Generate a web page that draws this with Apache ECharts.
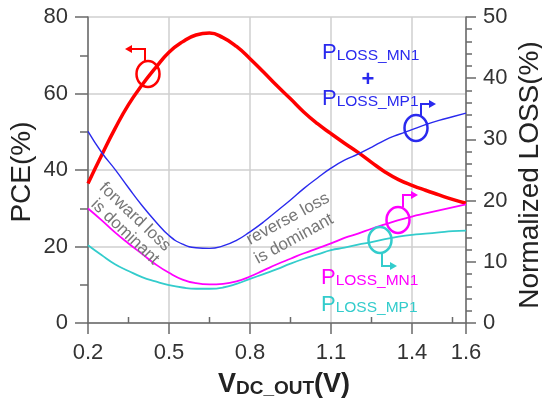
<!DOCTYPE html>
<html>
<head>
<meta charset="utf-8">
<script src="https://cdn.jsdelivr.net/npm/echarts@6/dist/echarts.min.js"></script>
<style>
  html, body { margin: 0; padding: 0; background: #fff; }
  #chart { width: 542px; height: 402px; }
</style>
</head>
<body>
<div id="chart"></div>
<script>
// VDC_OUT (V) sample points
const vdc = [0.2, 0.25, 0.3, 0.35, 0.4, 0.45, 0.5, 0.55, 0.6, 0.65, 0.7, 0.75, 0.8, 0.85, 0.9,
             0.95, 1.0, 1.05, 1.1, 1.15, 1.2, 1.25, 1.3, 1.35, 1.4, 1.45, 1.5, 1.55, 1.6];

// PCE (%) - left axis
const pce = [36.5, 43.8, 50.8, 57.1, 62.2, 66.7, 70.8, 73.5, 75.3, 75.8, 74.6, 72.3, 69.1, 65.6, 62.0,
             58.6, 55.1, 52.1, 49.5, 47.0, 44.6, 42.0, 39.5, 37.5, 36.0, 34.7, 33.5, 32.3, 31.3];

// Normalized loss (%) - right axis
const lossTotal = [31.3, 27.9, 25.1, 22.1, 19.2, 16.6, 14.3, 12.9, 12.3, 12.2, 12.6, 13.5, 14.9, 16.5, 18.3,
                   20.1, 22.0, 23.7, 25.3, 26.6, 27.6, 28.7, 29.9, 30.8, 31.6, 32.4, 33.1, 33.7, 34.3];
const lossMN1 = [18.7, 16.8, 14.8, 13.0, 11.3, 9.6, 8.2, 7.1, 6.5, 6.3, 6.4, 6.8, 7.6, 8.6, 9.6,
                 10.5, 11.4, 12.2, 13.0, 13.9, 14.6, 15.4, 16.1, 16.8, 17.4, 17.9, 18.4, 18.9, 19.4];
const lossMP1 = [12.7, 11.1, 9.6, 8.5, 7.5, 6.8, 6.2, 5.8, 5.6, 5.6, 5.8, 6.4, 7.2, 8.0, 8.8,
                 9.7, 10.5, 11.2, 11.9, 12.3, 12.8, 13.2, 13.7, 14.1, 14.4, 14.6, 14.8, 15.0, 15.1];

// ticks and grid lines
const xMajorTicks = [0.2, 0.5, 0.8, 1.1, 1.4, 1.6];
const xMinorTicks = [0.35, 0.65, 0.95, 1.25, 1.55];
const xTickLabels = [0.2, 0.5, 0.8, 1.1, 1.4, 1.6];

const FONT = '"Liberation Sans", Arial, sans-serif';
const AXIS_COLOR = '#6a6a6a';
const GRID_COLOR = '#cfcfcf';
const X_MIN = 0.2, X_MAX = 1.6;

const pairs = ys => vdc.map((x, i) => [x, ys[i]]);

// small circle + bent arrow markers pointing to the axis of each curve
function marker(cx, cy, color, stub, head) {
    return [
        { type: 'ellipse', shape: { cx: cx, cy: cy, rx: 11.5, ry: 13 },
          style: { fill: 'none', stroke: color, lineWidth: 2.5 }, z: 20 },
        { type: 'polyline', shape: { points: stub },
          style: { fill: 'none', stroke: color, lineWidth: 2 }, z: 20 },
        { type: 'polygon', shape: { points: head },
          style: { fill: color }, z: 20 }
    ];
}

function lossLabel(x, y, color, suffix) {
    return {
        type: 'text', x: x, y: y, z: 20,
        style: {
            text: '{p|P}{s|LOSS_' + suffix + '}',
            fill: color,
            fontSize: 22, fontFamily: FONT,
            textVerticalAlign: 'bottom',
            rich: {
                p: { fontSize: 22, fontFamily: FONT, fill: color, verticalAlign: 'bottom', lineHeight: 22 },
                s: { fontSize: 15.5, fontFamily: FONT, fill: color, verticalAlign: 'bottom', lineHeight: 18 }
            }
        }
    };
}

function noteText(x, y, rot, text) {
    return {
        type: 'text', x: x, y: y, rotation: rot, z: 15,
        style: {
            text: text, fill: '#777', font: '17px ' + FONT,
            align: 'center', verticalAlign: 'middle'
        }
    };
}

// minor x ticks (pointing inward), placed through the x axis scale
function minorTickRender(params, api) {
    const p = api.coord([api.value(0), 0]);
    return { type: 'line', shape: { x1: p[0], y1: p[1], x2: p[0], y2: p[1] - 6 },
             style: { stroke: AXIS_COLOR, lineWidth: 1.5 } };
}

const chart = echarts.init(document.getElementById('chart'));

chart.setOption({
    animation: false,
    grid: { left: 88, right: 76, top: 17, bottom: 79 },
    xAxis: {
        type: 'value', min: X_MIN, max: X_MAX,
        axisLine: { lineStyle: { color: AXIS_COLOR, width: 1.5 } },
        axisTick: { show: true, customValues: xMajorTicks, length: 11,
                    lineStyle: { color: AXIS_COLOR, width: 1.5 } },
        axisLabel: { customValues: xTickLabels, fontSize: 22, color: '#333', margin: 19,
                     fontFamily: FONT, formatter: v => v.toFixed(1) },
        splitLine: { show: true, lineStyle: { color: GRID_COLOR, width: 1.5 } }
    },
    yAxis: [
        {
            type: 'value', min: 0, max: 80, interval: 20,
            axisLine: { show: true, lineStyle: { color: AXIS_COLOR, width: 1.5 } },
            axisTick: { show: true, length: 13, lineStyle: { color: AXIS_COLOR, width: 1.5 } },
            minorTick: { show: true, splitNumber: 2, length: 8, lineStyle: { color: AXIS_COLOR, width: 1.5 } },
            axisLabel: { fontSize: 22, color: '#333', margin: 20, fontFamily: FONT },
            splitLine: { show: true, lineStyle: { color: GRID_COLOR, width: 1.5 } }
        },
        {
            type: 'value', min: 0, max: 50, interval: 10, position: 'right',
            axisLine: { show: true, lineStyle: { color: AXIS_COLOR, width: 1.5 } },
            axisTick: { show: true, length: 10, lineStyle: { color: AXIS_COLOR, width: 1.5 } },
            minorTick: { show: true, splitNumber: 5, length: 6, lineStyle: { color: AXIS_COLOR, width: 1.5 } },
            axisLabel: { fontSize: 22, color: '#333', margin: 17, fontFamily: FONT },
            splitLine: { show: false }
        }
    ],
    series: [
        { name: 'minor ticks', type: 'custom', yAxisIndex: 0, silent: true, clip: false,
          renderItem: minorTickRender, data: xMinorTicks.map(v => [v, 0]) },
        { name: 'PCE', type: 'line', yAxisIndex: 0, data: pairs(pce), smooth: true,
          showSymbol: false, lineStyle: { color: '#ff0000', width: 3.5 } },
        { name: 'PLOSS_MP1', type: 'line', yAxisIndex: 1, data: pairs(lossMP1), smooth: true,
          showSymbol: false, lineStyle: { color: '#33cccc', width: 1.8 } },
        { name: 'PLOSS_MN1', type: 'line', yAxisIndex: 1, data: pairs(lossMN1), smooth: true,
          showSymbol: false, lineStyle: { color: '#ff00ff', width: 1.8 } },
        { name: 'PLOSS_MN1 + PLOSS_MP1', type: 'line', yAxisIndex: 1, data: pairs(lossTotal), smooth: true,
          showSymbol: false, lineStyle: { color: '#2a2aee', width: 1.4 } }
    ],
    graphic: [
        { type: 'text', x: 22, y: 172, rotation: Math.PI / 2, z: 20,
          style: { text: 'PCE(%)', fill: '#222', font: '28px ' + FONT,
                   align: 'center', verticalAlign: 'middle' } },
        { type: 'text', x: 530, y: 175, rotation: Math.PI / 2, z: 20,
          style: { text: 'Normalized LOSS(%)', fill: '#222', font: '28px ' + FONT,
                   align: 'center', verticalAlign: 'middle' } },
        { type: 'text', x: 284, y: 383, z: 20,
          style: {
              text: '{a|V}{b|DC_OUT}{a|(V)}', fill: '#222', font: 'bold 27px ' + FONT,
              align: 'center', verticalAlign: 'middle',
              rich: {
                  a: { fontSize: 27, fontWeight: 'bold', fontFamily: FONT, fill: '#222', verticalAlign: 'bottom', lineHeight: 30 },
                  b: { fontSize: 19, fontWeight: 'bold', fontFamily: FONT, fill: '#222', verticalAlign: 'bottom', lineHeight: 25 }
              }
          } },
        lossLabel(322, 64, '#2a2aee', 'MN1'),
        { type: 'text', x: 368, y: 80, z: 20,
          style: { text: '+', fill: '#2a2aee', font: 'bold 22px ' + FONT,
                   align: 'center', verticalAlign: 'middle' } },
        lossLabel(322, 110, '#2a2aee', 'MP1'),
        lossLabel(321, 289, '#ff00ff', 'MN1'),
        lossLabel(321, 316, '#33cccc', 'MP1'),
        noteText(135, 217, -0.76, 'forward loss'),
        noteText(125, 232, -0.76, 'is dominant'),
        noteText(288, 219, 0.5, 'reverse loss'),
        noteText(294, 239, 0.5, 'is dominant'),
        ...marker(148, 74, '#ff0000', [[145, 61], [145, 49], [131, 49]], [[125, 49], [132, 45], [132, 53]]),
        ...marker(416, 128, '#2a2aee', [[421, 116], [421, 104], [430, 104]], [[436, 104], [429, 100], [429, 108]]),
        ...marker(398, 220, '#ff00ff', [[403, 207], [403, 195], [412, 195]], [[418, 195], [411, 191], [411, 199]]),
        ...marker(380, 240, '#33cccc', [[382, 253], [382, 266], [391, 266]], [[397, 266], [390, 262], [390, 270]])
    ]
});
</script>
</body>
</html>
